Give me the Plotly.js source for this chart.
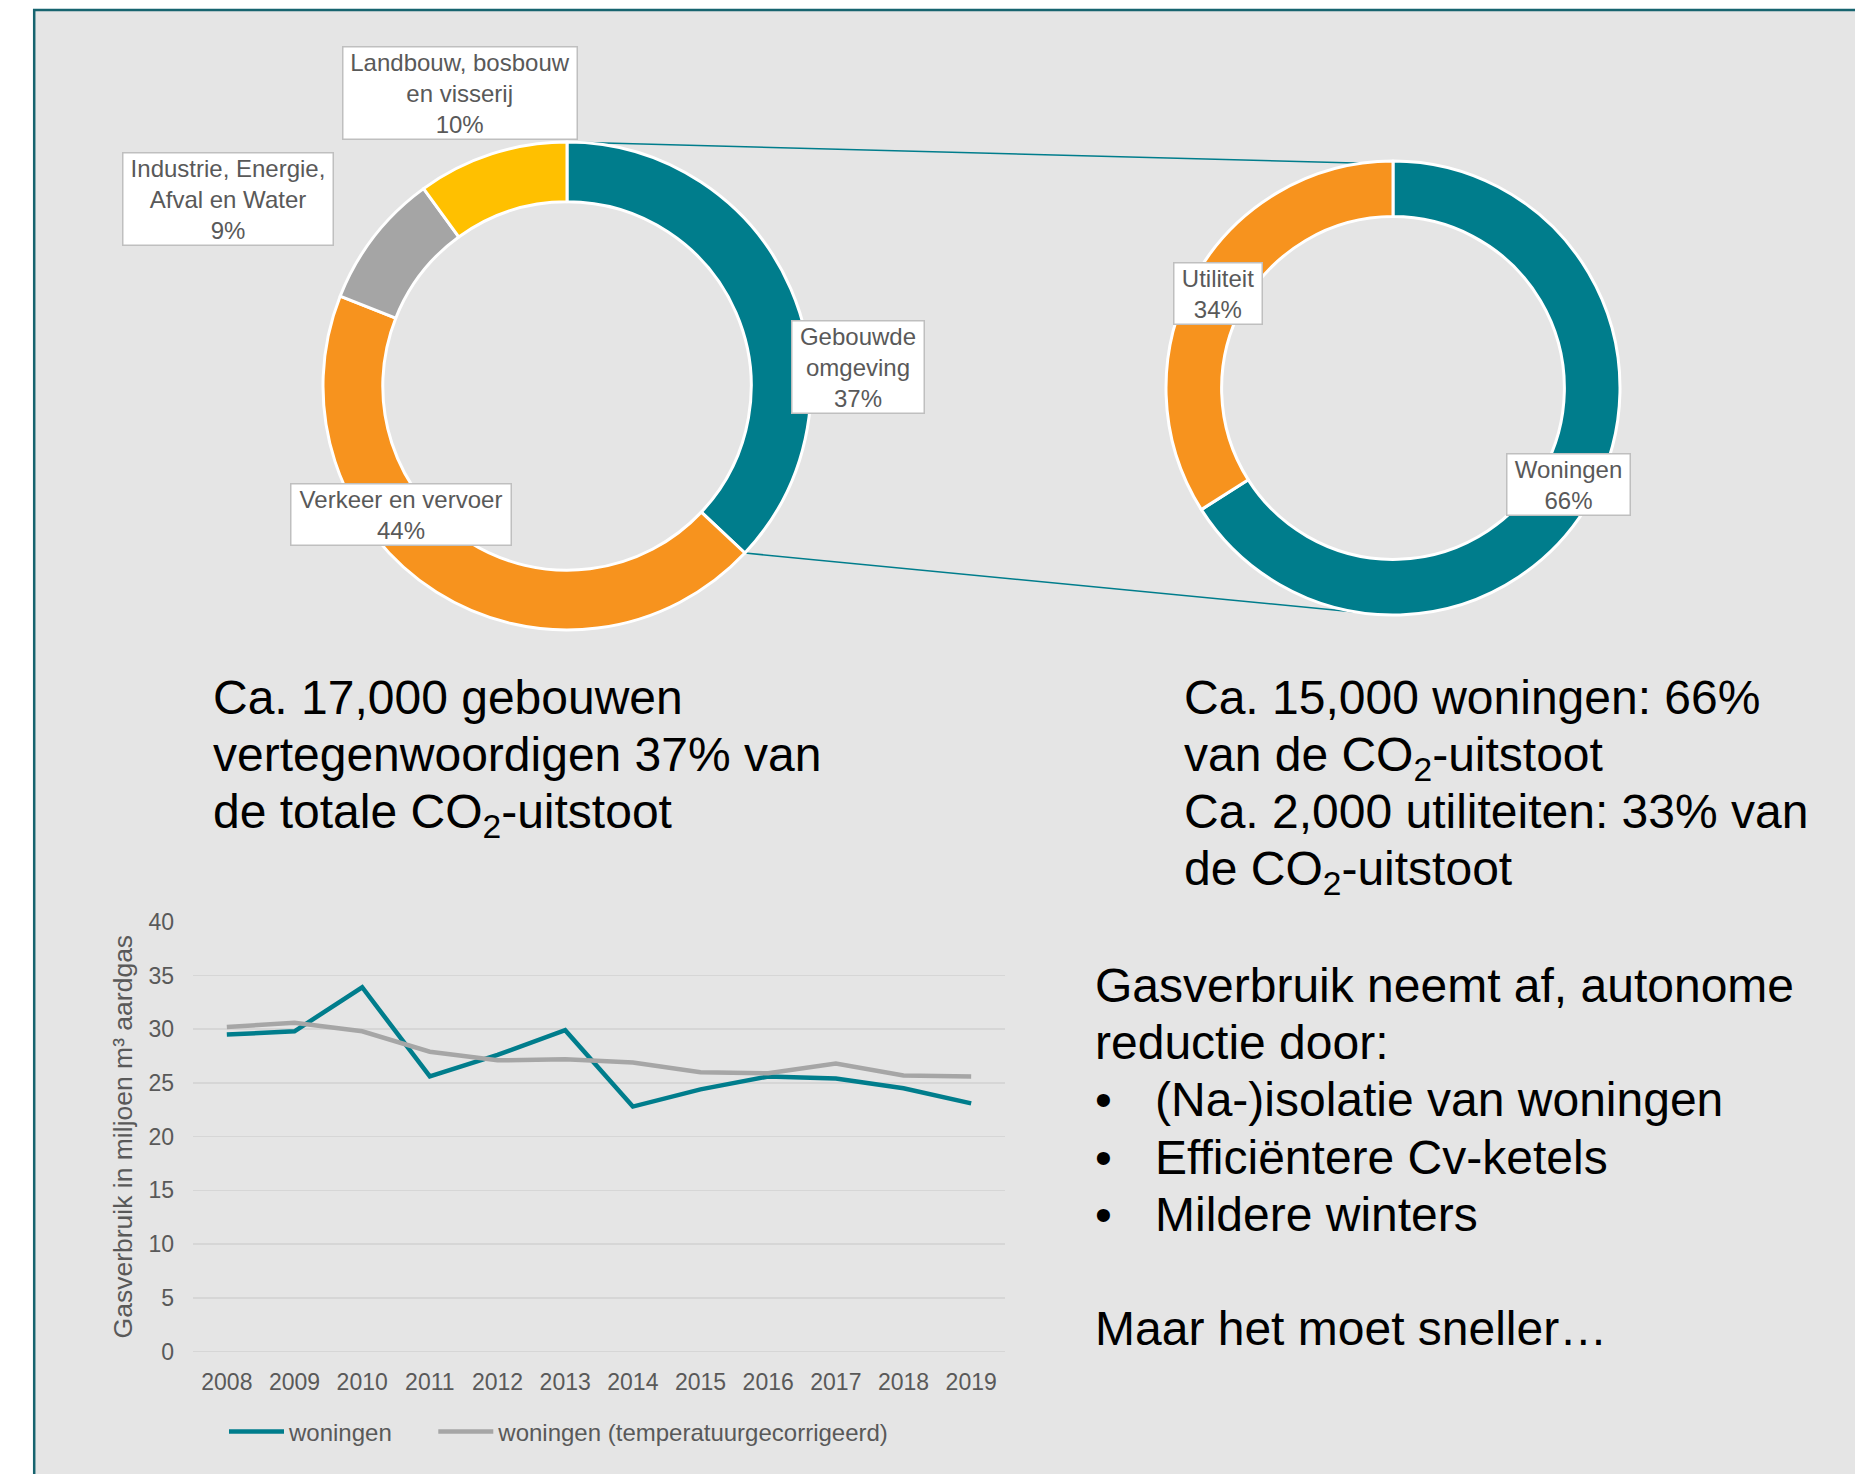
<!DOCTYPE html>
<html>
<head>
<meta charset="utf-8">
<script src="https://cdn.plot.ly/plotly-3.0.1.min.js"></script>
<style>
html,body{margin:0;padding:0;background:#ffffff;}
#chart{width:1855px;height:1474px;}
</style>
</head>
<body>
<div id="chart"></div>
<script>
// ---------------- DATA ----------------
const sectorLabels = ['Gebouwde<br>omgeving', 'Verkeer en vervoer', 'Industrie, Energie,<br>Afval en Water', 'Landbouw, bosbouw<br>en visserij'];
const sectorShares = [37, 44, 9, 10];
const sectorColors = ['#007D8C', '#F7931E', '#A5A5A5', '#FFC000'];

const buildingLabels = ['Woningen', 'Utiliteit'];
const buildingShares = [66, 34];
const buildingColors = ['#007D8C', '#F7931E'];

const years = ['2008','2009','2010','2011','2012','2013','2014','2015','2016','2017','2018','2019'];
const gasWoningen = [29.5, 29.8, 33.9, 25.6, 27.6, 29.9, 22.8, 24.4, 25.6, 25.4, 24.5, 23.1];
const gasCorrected = [30.2, 30.6, 29.8, 27.9, 27.1, 27.2, 26.9, 26.0, 25.9, 26.8, 25.7, 25.6];
const seriesNames = ['woningen', 'woningen (temperatuurgecorrigeerd)'];
const seriesColors = ['#007D8C', '#A6A6A6'];
const yTitle = 'Gasverbruik in miljoen m³ aardgas';

const textLeft = ['Ca. 17,000 gebouwen', 'vertegenwoordigen 37% van', 'de totale CO<sub>2</sub>-uitstoot'];
const textRight = ['Ca. 15,000 woningen: 66%', 'van de CO<sub>2</sub>-uitstoot', 'Ca. 2,000 utiliteiten: 33% van', 'de CO<sub>2</sub>-uitstoot'];
const textIntro = ['Gasverbruik neemt af, autonome', 'reductie door:'];
const bulletItems = ['(Na-)isolatie van woningen', 'Efficiëntere Cv-ketels', 'Mildere winters'];
const textOutro = ['Maar het moet sneller…'];

// ---------------- LAYOUT HELPERS ----------------
const W = 1855, H = 1474;
const px = v => v / W;
const py = v => 1 - v / H;
const FONT = 'Liberation Sans, Arial, Helvetica, sans-serif';

const pie1 = {cx: 567, cy: 386, r: 244};
const pie2 = {cx: 1393, cy: 388, r: 227};

function pieDomain(p) {
  return {x: [px(p.cx - p.r), px(p.cx + p.r)], y: [py(p.cy + p.r), py(p.cy - p.r)]};
}
function onRing(p, frac) {
  const a = 2 * Math.PI * frac;
  return [p.cx + p.r * Math.sin(a), p.cy - p.r * Math.cos(a)];
}

const traces = [
  {
    type: 'pie', labels: sectorLabels, values: sectorShares, sort: false,
    direction: 'clockwise', rotation: 0, hole: 0.755,
    marker: {colors: sectorColors, line: {color: '#ffffff', width: 3}},
    textinfo: 'none', textposition: 'none', hoverinfo: 'label+percent', showlegend: false,
    domain: pieDomain(pie1)
  },
  {
    type: 'pie', labels: buildingLabels, values: buildingShares, sort: false,
    direction: 'clockwise', rotation: 0, hole: 0.755,
    marker: {colors: buildingColors, line: {color: '#ffffff', width: 3}},
    textinfo: 'none', textposition: 'none', hoverinfo: 'label+percent', showlegend: false,
    domain: pieDomain(pie2)
  },
  {
    type: 'scatter', mode: 'lines', x: years, y: gasWoningen, name: seriesNames[0],
    line: {color: seriesColors[0], width: 4.5}, xaxis: 'x', yaxis: 'y', legend: 'legend'
  },
  {
    type: 'scatter', mode: 'lines', x: years, y: gasCorrected, name: seriesNames[1],
    line: {color: seriesColors[1], width: 4.5}, xaxis: 'x', yaxis: 'y', legend: 'legend2'
  }
];

// pie label boxes (center px, box width px)
const labelBoxes1 = [
  {cx: 858, cy: 367, w: 133},
  {cx: 401, cy: 514, w: 221},
  {cx: 228, cy: 199, w: 211},
  {cx: 460, cy: 93, w: 235}
];
const labelBoxes2 = [
  {cx: 1568, cy: 484, w: 124},
  {cx: 1218, cy: 293, w: 89}
];

const annotations = [];
function addLabel(label, share, b) {
  annotations.push({
    xref: 'paper', yref: 'paper', x: px(b.cx), y: py(b.cy), xanchor: 'center', yanchor: 'middle',
    text: label + '<br>' + share + '%', showarrow: false,
    font: {family: FONT, size: 24, color: '#595959'},
    bgcolor: '#ffffff', bordercolor: '#BFBFBF', borderwidth: 1.5, borderpad: 1,
    width: b.w - 4, align: 'center'
  });
}
sectorLabels.forEach((l, i) => addLabel(l, sectorShares[i], labelBoxes1[i]));
buildingLabels.forEach((l, i) => addLabel(l, buildingShares[i], labelBoxes2[i]));

const BIG = 48;
function addLine(text, xLeft, baseline) {
  annotations.push({
    xref: 'paper', yref: 'paper', x: px(xLeft - 2), y: py(baseline - 45.4), xanchor: 'left', yanchor: 'top',
    text: text, showarrow: false, align: 'left',
    font: {family: FONT, size: BIG, color: '#000000'}
  });
}
const LS1 = 57, LS2 = 57.3;
textLeft.forEach((t, i) => addLine(t, 213, 714 + i * LS1));
textRight.forEach((t, i) => addLine(t, 1184, 714 + i * LS1));
textIntro.forEach((t, i) => addLine(t, 1095, 1002 + i * LS2));
bulletItems.forEach((t, i) => {
  addLine('•', 1095, 1002 + (i + 2) * LS2);
  addLine(t, 1155, 1002 + (i + 2) * LS2);
});
textOutro.forEach((t, i) => addLine(t, 1095, 1002 + 6 * LS2));

// connector lines from the "Gebouwde omgeving" slice to the breakdown donut
const c1a = onRing(pie1, 0);
const c1b = onRing(pie2, 0);
const c2a = onRing(pie1, sectorShares[0] / 100);
const c2b = onRing(pie2, 0.525);

const TEAL_FRAME = '#17646F';
const shapes = [
  {type: 'rect', xref: 'paper', yref: 'paper', x0: px(34), x1: 1.01, y0: -0.01, y1: py(10),
   fillcolor: '#E5E5E5', line: {width: 0}, layer: 'below'},
  {type: 'line', xref: 'paper', yref: 'paper', x0: px(33), x1: 1.01, y0: py(10), y1: py(10),
   line: {color: TEAL_FRAME, width: 2.5}, layer: 'below'},
  {type: 'line', xref: 'paper', yref: 'paper', x0: px(34.2), x1: px(34.2), y0: py(9), y1: -0.01,
   line: {color: TEAL_FRAME, width: 2.5}, layer: 'below'},
  {type: 'line', xref: 'paper', yref: 'paper', x0: px(c1a[0]), y0: py(c1a[1]), x1: px(c1b[0]), y1: py(c1b[1] + 3),
   line: {color: '#007D8C', width: 1.5}, layer: 'below'},
  {type: 'line', xref: 'paper', yref: 'paper', x0: px(c2a[0]), y0: py(c2a[1]), x1: px(c2b[0]), y1: py(c2b[1]),
   line: {color: '#007D8C', width: 1.5}, layer: 'below'}
];

const legendBase = {
  orientation: 'h', y: py(1432), xanchor: 'left', yanchor: 'middle',
  font: {family: FONT, size: 24, color: '#595959'}, bgcolor: 'rgba(0,0,0,0)',
  itemwidth: 55
};

const layout = {
  width: W, height: H,
  margin: {l: 0, r: 0, t: 0, b: 0, pad: 0},
  paper_bgcolor: '#ffffff', plot_bgcolor: 'rgba(0,0,0,0)',
  font: {family: FONT, color: '#595959'},
  xaxis: {
    domain: [px(193), px(1005)], anchor: 'y', type: 'category', range: [-0.5, 11.5],
    showgrid: false, zeroline: false, showline: false, ticks: '',
    tickfont: {family: FONT, size: 23, color: '#595959'}, ticklabelstandoff: 14, fixedrange: true
  },
  yaxis: {
    domain: [py(1351.6), py(921.7)], anchor: 'x', range: [0, 40], dtick: 5,
    showgrid: true, gridcolor: '#D6D6D6', gridwidth: 1.5,
    zeroline: true, zerolinecolor: '#D6D6D6', zerolinewidth: 1.5, showline: false, ticks: '',
    tickfont: {family: FONT, size: 23, color: '#595959'}, ticklabelstandoff: 18,
    title: {text: yTitle, font: {family: FONT, size: 26.5, color: '#595959'}, standoff: 8},
    fixedrange: true
  },
  showlegend: true,
  legend: Object.assign({}, legendBase, {x: px(224)}),
  legend2: Object.assign({}, legendBase, {x: px(433.3)}),
  annotations: annotations,
  shapes: shapes
};

Plotly.newPlot('chart', traces, layout, {displayModeBar: false, staticPlot: true});
</script>
</body>
</html>
